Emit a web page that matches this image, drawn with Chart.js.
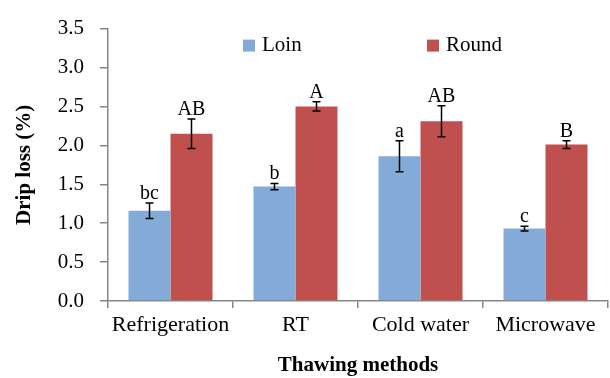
<!DOCTYPE html>
<html>
<head>
<meta charset="utf-8">
<script src="https://cdn.jsdelivr.net/npm/chart.js@4"></script>
<style>
  body { margin: 0; background: #fff; }
  #wrap { width: 610px; height: 378px; }
</style>
</head>
<body>
<div id="wrap"><canvas id="chart"></canvas></div>
<script>
let categories = ["Refrigeration", "RT", "Cold water", "Microwave"];
let loin = [1.16, 1.47, 1.86, 0.93];
let loinErr = [0.10, 0.04, 0.20, 0.03];
let round = [2.15, 2.50, 2.31, 2.01];
let roundErr = [0.19, 0.06, 0.20, 0.05];
let loinLetters = ["bc", "b", "a", "c"];
let roundLetters = ["AB", "A", "AB", "B"];
let yTicks = [0, 0.5, 1, 1.5, 2, 2.5, 3, 3.5];

let serif = "'Liberation Serif', 'Times New Roman', serif";
let axisGray = "#868686";

// error bars + significance letters
let errorBars = {
  id: "errorBars",
  afterDatasetsDraw(chart) {
    let ctx = chart.ctx;
    let y = chart.scales.y;
    let errs = [loinErr, roundErr];
    let letters = [loinLetters, roundLetters];
    ctx.save();
    chart.data.datasets.forEach((ds, i) => {
      let meta = chart.getDatasetMeta(i);
      meta.data.forEach((bar, j) => {
        let v = ds.data[j], e = errs[i][j];
        let top = y.getPixelForValue(v + e);
        let bot = y.getPixelForValue(v - e);
        ctx.strokeStyle = "#000";
        ctx.lineWidth = 1.5;
        ctx.beginPath();
        ctx.moveTo(bar.x, top); ctx.lineTo(bar.x, bot);
        ctx.moveTo(bar.x - 4, top); ctx.lineTo(bar.x + 4, top);
        ctx.moveTo(bar.x - 4, bot); ctx.lineTo(bar.x + 4, bot);
        ctx.stroke();
        ctx.fillStyle = "#000";
        ctx.font = "20px " + serif;
        ctx.textAlign = "center";
        ctx.textBaseline = "alphabetic";
        ctx.fillText(letters[i][j], bar.x, top - 4);
      });
    });
    ctx.restore();
  }
};

// legend drawn inside the plot
let innerLegend = {
  id: "innerLegend",
  afterDraw(chart) {
    let ctx = chart.ctx;
    let a = chart.chartArea;
    let xs = [a.left + 135, a.left + 319];
    ctx.save();
    ctx.font = "21px " + serif;
    ctx.textBaseline = "middle";
    ctx.textAlign = "left";
    chart.data.datasets.forEach((ds, i) => {
      ctx.fillStyle = ds.backgroundColor;
      ctx.fillRect(xs[i], a.top + 11, 12, 12);
      ctx.fillStyle = "#000";
      ctx.fillText(ds.label, xs[i] + 19, a.top + 17);
    });
    ctx.restore();
  }
};

new Chart(document.getElementById("chart"), {
  type: "bar",
  data: {
    labels: categories,
    datasets: [
      { label: "Loin", data: loin, backgroundColor: "#84AAD8" },
      { label: "Round", data: round, backgroundColor: "#C0504D" }
    ]
  },
  options: {
    responsive: true,
    maintainAspectRatio: false,
    animation: false,
    layout: { padding: { top: 24, right: 2, left: 0, bottom: 0 } },
    datasets: { bar: { categoryPercentage: 0.672, barPercentage: 1 } },
    plugins: { legend: { display: false }, tooltip: { enabled: false } },
    scales: {
      x: {
        afterFit(s) { s.height = 77; },
        border: { color: axisGray, width: 1.5 },
        grid: { display: true, drawOnChartArea: false, drawTicks: true, tickLength: 7, color: axisGray, lineWidth: 1.5, offset: true },
        ticks: { color: "#000", font: { family: serif, size: 22 }, padding: 4, maxRotation: 0 },
        title: { display: true, text: "Thawing methods", color: "#000", font: { family: serif, size: 21, weight: "bold" }, padding: { top: 0, bottom: 0 } }
      },
      y: {
        min: 0,
        max: 3.5,
        afterFit(s) { s.width = 108; },
        afterBuildTicks(s) { s.ticks = yTicks.map(v => ({ value: v })); },
        border: { color: axisGray, width: 1.5 },
        grid: { display: true, drawOnChartArea: false, drawTicks: true, tickLength: 8, color: axisGray, lineWidth: 1.5 },
        ticks: { color: "#000", font: { family: serif, size: 21 }, padding: 16, callback: v => v.toFixed(1) },
        title: { display: true, text: "Drip loss (%)", color: "#000", font: { family: serif, size: 21, weight: "bold" }, padding: { top: 12, bottom: 0 } }
      }
    }
  },
  plugins: [errorBars, innerLegend]
});
</script>
</body>
</html>
